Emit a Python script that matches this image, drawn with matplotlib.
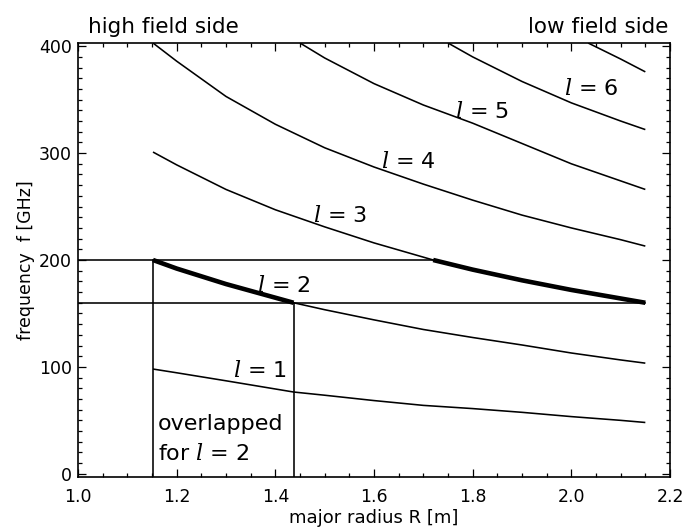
import matplotlib
matplotlib.use("Agg")
import matplotlib.pyplot as plt
from matplotlib.ticker import MultipleLocator

plt.rcParams['font.family'] = ['DejaVu Sans']
plt.rcParams['mathtext.fontset'] = 'custom'
plt.rcParams['mathtext.it'] = 'DejaVu Serif:italic'
plt.rcParams['mathtext.rm'] = 'DejaVu Sans'

# ---- data ----
l1_R = [1.152, 1.2, 1.3, 1.437, 1.5, 1.6, 1.7, 1.8, 1.9, 2.0, 2.1, 2.15]
l1_f = [98, 94.5, 87, 76.5, 73.5, 68.5, 64, 61, 57.5, 53.5, 50, 48]

l2_R = [1.152, 1.2, 1.3, 1.437, 1.5, 1.6, 1.7, 1.8, 1.9, 2.0, 2.1, 2.15]
l2_f = [200, 192, 177.5, 160, 153.5, 144, 135, 127.5, 120.5, 113, 106.5, 103.5]

l3_R = [1.152, 1.2, 1.3, 1.4, 1.5, 1.6, 1.72, 1.8, 1.9, 2.0, 2.1, 2.15]
l3_f = [301, 289, 266, 247, 231, 216, 200, 191, 181, 172, 164, 160]

l4_R = [1.152, 1.2, 1.3, 1.4, 1.5, 1.6, 1.7, 1.8, 1.9, 2.0, 2.1, 2.15]
l4_f = [403, 386, 353, 327, 305, 287, 271, 256, 242, 230, 219, 213]

l5_R = [1.45, 1.5, 1.6, 1.7, 1.8, 1.9, 2.0, 2.1, 2.15]
l5_f = [403, 389, 365, 345, 328, 309, 290, 274, 266]

l6_R = [1.75, 1.8, 1.9, 2.0, 2.1, 2.15]
l6_f = [403, 390, 367, 347, 330, 322]

l7_R = [2.034, 2.1, 2.15]
l7_f = [403, 388, 376]

band_f = [160, 200]          # frequency range of l = 2
x_ticks = [1.0, 1.2, 1.4, 1.6, 1.8, 2.0, 2.2]
y_ticks = [0, 100, 200, 300, 400]

curves = [(l1_R, l1_f), (l2_R, l2_f), (l3_R, l3_f), (l4_R, l4_f),
          (l5_R, l5_f), (l6_R, l6_f), (l7_R, l7_f)]

fig = plt.figure(figsize=(6.83, 5.31), dpi=100)
ax = fig.add_axes([78/683, 1-477/531, (670-78)/683, (477-43)/531])

ax.set_xlim(1.0, 2.2)
ax.set_ylim(-3, 403)

thin = 1.15
thick = 3.3
for R, f in curves:
    ax.plot(R, f, color='black', lw=thin, solid_capstyle='butt')
    # thick portion inside the l=2 frequency band (only l=2 and l=3)
    sel = [(r, v) for r, v in zip(R, f) if band_f[0] - 0.5 <= v <= band_f[1] + 0.5]
    if len(sel) > 1 and (R is l2_R or R is l3_R):
        ax.plot([s[0] for s in sel], [s[1] for s in sel], color='black', lw=thick,
                solid_capstyle='butt')

# band delimiting lines
R_hi = l2_R[l2_f.index(band_f[1])]
R_lo = l2_R[l2_f.index(band_f[0])]
R_hi3 = l3_R[l3_f.index(band_f[1])]
R_lo3 = l3_R[l3_f.index(band_f[0])]
ymin = ax.get_ylim()[0]
ax.plot([1.0, R_hi3], [band_f[1], band_f[1]], color='black', lw=thin)
ax.plot([1.0, R_lo3], [band_f[0], band_f[0]], color='black', lw=thin)
ax.plot([R_hi, R_hi], [ymin, band_f[1]], color='black', lw=thin)
ax.plot([R_lo, R_lo], [ymin, band_f[0]], color='black', lw=thin)

# labels
lab_fs = 16
ax.text(1.369, 90.5, r'$l$ = 1', fontsize=lab_fs, ha='center', va='baseline')
ax.text(1.418, 170.4, r'$l$ = 2', fontsize=lab_fs, ha='center', va='baseline')
ax.text(1.531, 235.8, r'$l$ = 3', fontsize=lab_fs, ha='center', va='baseline')
ax.text(1.669, 285.8, r'$l$ = 4', fontsize=lab_fs, ha='center', va='baseline')
ax.text(1.820, 332.6, r'$l$ = 5', fontsize=lab_fs, ha='center', va='baseline')
ax.text(2.041, 354.4, r'$l$ = 6', fontsize=lab_fs, ha='center', va='baseline')
ax.text(1.162, 41, 'overlapped', fontsize=lab_fs, ha='left', va='baseline')
ax.text(1.162, 12.9, r'for $l$ = 2', fontsize=lab_fs, ha='left', va='baseline')

fig.text(88/683, 1-33/531, 'high field side', fontsize=15.5, ha='left', va='baseline')
fig.text(668/683, 1-33/531, 'low field side', fontsize=15.5, ha='right', va='baseline')

# ticks
ax.set_xticks(x_ticks)
ax.set_xticklabels([f'{t:.1f}' for t in x_ticks])
ax.set_yticks(y_ticks)
ax.set_yticklabels([str(t) for t in y_ticks])
ax.xaxis.set_minor_locator(MultipleLocator(0.05))
ax.yaxis.set_minor_locator(MultipleLocator(10))
ax.tick_params(which='both', direction='in', top=True, right=True, width=0.9)
ax.tick_params(which='major', length=5.5)
ax.tick_params(which='minor', length=2.8)
ax.tick_params(axis='x', which='major', labelsize=12.5, pad=8)
ax.tick_params(axis='y', which='major', labelsize=12.5, pad=4.5)
for s in ax.spines.values():
    s.set_linewidth(1.2)

ax.set_xlabel('major radius R [m]', fontsize=13, labelpad=2)
ax.set_ylabel('frequency  f [GHz]', fontsize=12.5, labelpad=3)

fig.savefig('out.png', dpi=100)
